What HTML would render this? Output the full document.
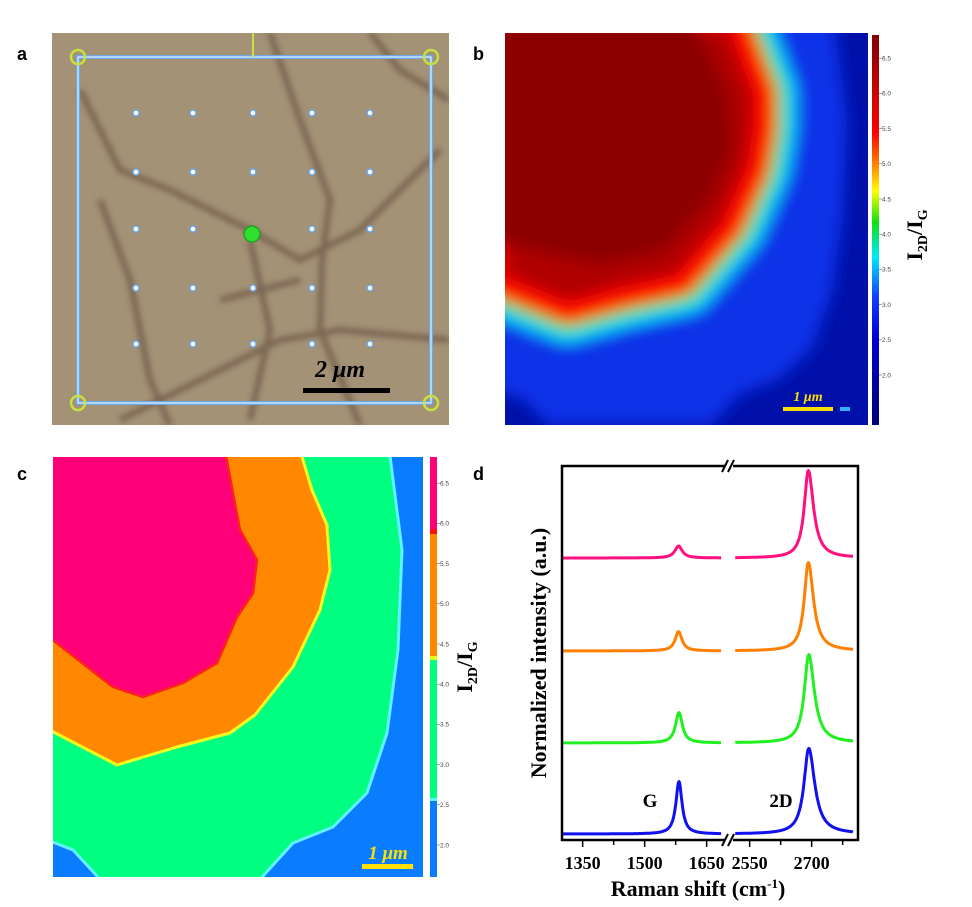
<!DOCTYPE html>
<html><head><meta charset="utf-8"><style>
html,body{margin:0;padding:0;background:#fff;}
svg{display:block;font-family:"Liberation Serif",serif;}
.pl{font-family:"Liberation Sans",sans-serif;font-weight:bold;font-size:18px;}
</style></head><body>
<svg id="fig" width="972" height="907" viewBox="0 0 972 907">
<defs>
<filter id="blur8" x="-20%" y="-20%" width="140%" height="140%"><feGaussianBlur stdDeviation="8"/></filter>
<filter id="blur3"><feGaussianBlur stdDeviation="3"/></filter>
<linearGradient id="cbB" x1="0" y1="1" x2="0" y2="0">
<stop offset="0" stop-color="#00007a"/><stop offset="0.22" stop-color="#0000d0"/><stop offset="0.33" stop-color="#1040ff"/>
<stop offset="0.43" stop-color="#00e8ff"/><stop offset="0.52" stop-color="#10e010"/><stop offset="0.6" stop-color="#ffff00"/>
<stop offset="0.66" stop-color="#ff9000"/><stop offset="0.75" stop-color="#ff0000"/><stop offset="1" stop-color="#800000"/>
</linearGradient>
<clipPath id="clipB"><rect x="505" y="33" width="363" height="392"/></clipPath>
<clipPath id="clipC"><rect x="53" y="457" width="370" height="420"/></clipPath>
<clipPath id="clipA"><rect x="52" y="33" width="397" height="392"/></clipPath>
</defs>

<text class="pl" x="17" y="60">a</text>
<text class="pl" x="473" y="60">b</text>
<text class="pl" x="17" y="480">c</text>
<text class="pl" x="473" y="480">d</text>

<!-- PANEL A -->
<g clip-path="url(#clipA)">
<rect x="52" y="33" width="397" height="392" fill="#a39276"/>
<g filter="url(#blur3)" fill="none" stroke="#6e5646" stroke-width="6" opacity="0.75">
<path d="M270 33 L300 120 L330 200 L322 260 L320 330 L360 425"/>
<path d="M80 90 L120 170 L170 190 L250 230 L300 260 L360 230 L440 150"/>
<path d="M100 200 L130 280 L150 380 L170 425"/>
<path d="M250 240 L270 330 L250 420"/>
<path d="M120 420 L200 380 L280 340 L340 330 L449 340"/>
<path d="M370 33 L400 70 L449 100"/>
<path d="M220 300 L300 280"/>
</g>
<rect x="78" y="57" width="353" height="346" fill="none" stroke="#6aa8e8" stroke-width="4"/>
<rect x="78" y="57" width="353" height="346" fill="none" stroke="#ffffff" stroke-width="1"/>
<line x1="253" y1="33" x2="253" y2="57" stroke="#c8e040" stroke-width="2"/>
<g id="gridDots"></g>
<g fill="none" stroke="#c8e040" stroke-width="2.5">
<circle cx="78" cy="57" r="7"/><circle cx="431" cy="57" r="7"/><circle cx="78" cy="403" r="7"/><circle cx="431" cy="403" r="7"/>
</g>
<circle cx="252" cy="234" r="8" fill="#30e030" stroke="#20a020" stroke-width="1.5"/>
<text x="340" y="377" text-anchor="middle" font-size="24" font-weight="bold" font-style="italic">2 μm</text>
<rect x="303" y="388" width="87" height="5" fill="#000"/>
</g>

<!-- PANEL B -->
<g clip-path="url(#clipB)">
<rect x="505" y="33" width="363" height="392" fill="#0010a8"/>
<g transform="translate(505,33) scale(0.981,0.9356) translate(-53,-457)" filter="url(#blur8)">
<path d="M40 440 L388 440 L402 550 L398 650 L387 733 L367 793 L333 827 L293 843 L263 876 L97 876 L73 850 L40 837 Z" fill="#0a30e8"/>
<path id="ob" d="M40 440 L290 440 L318 520 L318 560 L311 603 L285 665 L235 726 L175 740 L117 757 L40 725 Z" fill="none" stroke="#10d8ff" stroke-width="62" stroke-linejoin="round"/>
<use href="#ob" stroke="#20f020" stroke-width="40"/>
<path d="M40 440 L290 440 L318 520 L318 560 L311 603 L285 665 L235 726 L175 740 L117 757 L40 725 Z" fill="none" stroke="#20f020" stroke-width="40" stroke-linejoin="round"/>
<path d="M40 440 L290 440 L318 520 L318 560 L311 603 L285 665 L235 726 L175 740 L117 757 L40 725 Z" fill="none" stroke="#ffe800" stroke-width="24" stroke-linejoin="round"/>
<path d="M40 440 L290 440 L318 520 L318 560 L311 603 L285 665 L235 726 L175 740 L117 757 L40 725 Z" fill="#b00000" stroke="#ff1000" stroke-width="24" stroke-linejoin="round"/>
<path d="M40 440 L245 440 L280 520 L285 580 L262 635 L215 690 L150 705 L40 680 Z" fill="#8c0000"/>
</g>
<text x="808" y="401" text-anchor="middle" font-size="14" font-weight="bold" font-style="italic" fill="#ffe000">1 μm</text>
<rect x="783" y="407" width="50" height="4" fill="#ffe000"/>
<rect x="840" y="407" width="10" height="4" fill="#30b0ff"/>
</g>
<rect x="872" y="35" width="7" height="390" fill="url(#cbB)"/>
<g id="cbBticks" font-family="Liberation Sans,sans-serif" font-size="6.5" fill="#444"></g>
<text transform="translate(922,235) rotate(-90)" text-anchor="middle" font-size="22" font-weight="bold">I<tspan font-size="14" dy="5">2D</tspan><tspan dy="-5">/I</tspan><tspan font-size="14" dy="5">G</tspan></text>

<!-- PANEL C -->
<g clip-path="url(#clipC)">
<rect x="53" y="457" width="370" height="420" fill="#0a7cff"/>
<path d="M40 440 L388 440 L402 550 L398 650 L387 733 L367 793 L333 827 L293 843 L263 876 L263 890 L97 890 L97 876 L73 850 L40 837 Z" fill="#00ff80" stroke="#60f0ff" stroke-width="3"/>
<path d="M40 440 L297 440 L312 490 L327 525 L330 570 L320 610 L293 667 L255 715 L230 733 L177 747 L117 765 L40 725 Z" fill="#ff8800" stroke="#f0ff20" stroke-width="3" stroke-linejoin="round"/>
<path d="M40 440 L223 440 L240 530 L257 560 L253 593 L237 617 L217 663 L183 683 L143 697 L113 687 L40 630 Z" fill="#ff0078" stroke="#ff2020" stroke-width="2.5" stroke-linejoin="round"/>
<text x="388" y="859" text-anchor="middle" font-size="19" font-weight="bold" font-style="italic" fill="#ffe000">1 μm</text>
<rect x="362" y="864" width="51" height="5" fill="#ffe000"/>
</g>
<g>
<rect x="430" y="457" width="7" height="75" fill="#ff0078"/>
<rect x="430" y="529" width="7" height="5" fill="#ff1010"/>
<rect x="430" y="534" width="7" height="124" fill="#ff8800"/>
<rect x="430" y="656" width="7" height="4" fill="#e0ff10"/>
<rect x="430" y="660" width="7" height="140" fill="#00ff80"/>
<rect x="430" y="798" width="7" height="3" fill="#60f0ff"/>
<rect x="430" y="801" width="7" height="76" fill="#0a7cff"/>
</g>
<g id="cbCticks" font-family="Liberation Sans,sans-serif" font-size="6.5" fill="#444"></g>
<text transform="translate(472,667) rotate(-90)" text-anchor="middle" font-size="22" font-weight="bold">I<tspan font-size="14" dy="5">2D</tspan><tspan dy="-5">/I</tspan><tspan font-size="14" dy="5">G</tspan></text>

<!-- PANEL D -->
<g id="spectra"></g>
<rect x="562" y="466" width="296" height="374" fill="none" stroke="#000" stroke-width="2.5"/>
<g>
<rect x="725" y="462" width="8" height="8" fill="#fff"/>
<rect x="725" y="836" width="8" height="8" fill="#fff"/>
<path d="M722 472 L728 460 M728 472 L734 460 M722 846 L728 834 M728 846 L734 834" stroke="#000" stroke-width="2"/>
</g>
<g id="xticks" font-size="18" font-weight="bold" text-anchor="middle"></g>
<text x="698" y="896" text-anchor="middle" font-size="22" font-weight="bold">Raman shift (cm<tspan font-size="13" dy="-8">-1</tspan><tspan dy="8">)</tspan></text>
<text transform="translate(546,653) rotate(-90)" text-anchor="middle" font-size="22" font-weight="bold">Normalized intensity (a.u.)</text>
<text x="650" y="807" text-anchor="middle" font-size="19" font-weight="bold">G</text>
<text x="781" y="807" text-anchor="middle" font-size="19" font-weight="bold">2D</text>
</svg>
<script>
// ---- panel d data ----
const seriesNames = ['blue','green','orange','pink'];
const seriesColors = ['#1010f0','#20f020','#ff8000','#ff1080'];
const offsets = [0, 0.99, 1.99, 3.0];
const gAmp = [0.57, 0.33, 0.21, 0.13];
const dAmp = [0.93, 0.96, 0.96, 0.95];
const gCenter = [1583, 1583, 1582, 1582];
const dCenter = [2693, 2693, 2692, 2692];
const gWidth = [9, 10, 10, 11];
const dWidth = [14, 13, 12, 12];
const leftTicks = [1350, 1500, 1650];
const rightTicks = [2550, 2700];
const leftMinor = [1425, 1575];
const rightMinor = [2625, 2775];
const cbBTicks = ['6.5','6.0','5.5','5.0','4.5','4.0','3.5','3.0','2.5','2.0'];
const cbCTicks = ['6.5','6.0','5.5','5.0','4.5','4.0','3.5','3.0','2.5','2.0'];

const NS='http://www.w3.org/2000/svg';
function xs(v){ return v < 2000 ? 562 + (v-1300)*0.4133 : 729 + (v-2500)*0.4133; }
function ys(v){ return 834 - v*92; }
function cbBy(v){ return 375 - (v-2.0)*70.4; }
function cbCy(v){ return 845 - (v-2.0)*80.4; }

const sp=document.getElementById('spectra');
for(let i=0;i<seriesNames.length;i++){
  for(const seg of [[1300,1685,true],[2515,2800,false]]){
    let d='';
    for(let x=seg[0]; x<=seg[1]; x+=1){
      let v;
      if(seg[2]){ const w=gWidth[i]; v=gAmp[i]*w*w/((x-gCenter[i])**2+w*w); }
      else { const w = x>dCenter[i]? dWidth[i]*1.25 : dWidth[i]; v=dAmp[i]*w*w/((x-dCenter[i])**2+w*w); }
      d += (d?'L':'M') + xs(x).toFixed(1) + ' ' + ys(offsets[i]+v).toFixed(1);
    }
    const p=document.createElementNS(NS,'path');
    p.setAttribute('d',d); p.setAttribute('fill','none');
    p.setAttribute('stroke',seriesColors[i]); p.setAttribute('stroke-width','3');
    p.setAttribute('stroke-linejoin','round');
    
    
    sp.appendChild(p);
  }
}
const xt=document.getElementById('xticks');
function tick(v,major){
  const l=document.createElementNS(NS,'line');
  l.setAttribute('x1',xs(v)); l.setAttribute('x2',xs(v));
  l.setAttribute('y1',841); l.setAttribute('y2',major?847:845);
  l.setAttribute('stroke','#000'); l.setAttribute('stroke-width','1.5');
  xt.appendChild(l);
  if(major){
    const t=document.createElementNS(NS,'text');
    t.setAttribute('x',xs(v)); t.setAttribute('y',869); t.textContent=v;
    
    
    xt.appendChild(t);
  }
}
leftTicks.concat(rightTicks).forEach(v=>tick(v,true));
leftMinor.concat(rightMinor).forEach(v=>tick(v,false));

function cbTicks(id,arr,x,fy){
  const g=document.getElementById(id);
  arr.forEach(s=>{
    const y=fy(parseFloat(s));
    const l=document.createElementNS(NS,'line');
    l.setAttribute('x1',x); l.setAttribute('x2',x+3); l.setAttribute('y1',y); l.setAttribute('y2',y);
    l.setAttribute('stroke','#666'); l.setAttribute('stroke-width','0.6'); g.appendChild(l);
    const t=document.createElementNS(NS,'text');
    t.setAttribute('x',x+3); t.setAttribute('y',y+2.3); t.textContent=s;
    
    
    g.appendChild(t);
  });
}
cbTicks('cbBticks',cbBTicks,879,cbBy);
cbTicks('cbCticks',cbCTicks,437,cbCy);

const gd=document.getElementById('gridDots');
const dotX=[136,193,253,312,370], dotY=[113,172,229,288,344];
dotX.forEach(x=>dotY.forEach(y=>{
  if(x===253&&y===229) return;
  const c=document.createElementNS(NS,'circle');
  c.setAttribute('cx',x); c.setAttribute('cy',y); c.setAttribute('r',3);
  c.setAttribute('fill','#fff'); c.setAttribute('stroke','#6aa8e8'); c.setAttribute('stroke-width','1.5');
  
  
  gd.appendChild(c);
}));
</script>
</body></html>
